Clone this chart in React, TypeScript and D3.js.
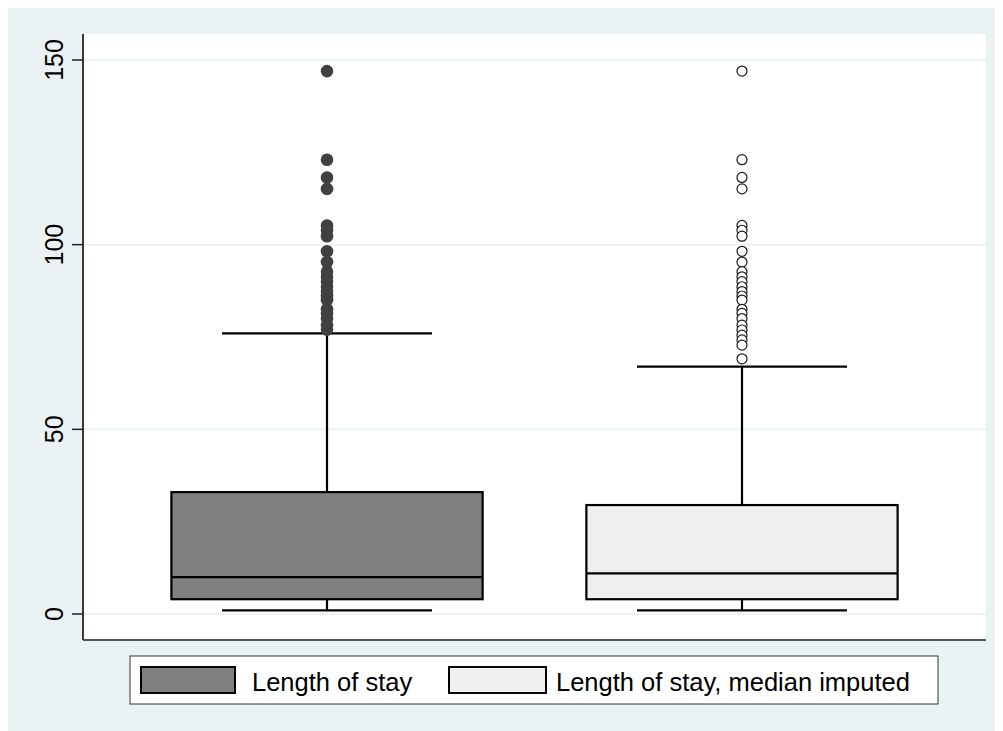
import React from "react";
import { scaleLinear, scalePoint } from "d3";

const groups = ["Length of stay", "Length of stay, median imputed"];
const lowerWhisker = [1, 1];
const q1 = [4, 4];
const medians = [10, 11];
const q3 = [33, 29.5];
const upperWhisker = [76, 67];
const outliersLos = [
  147, 123, 118.2, 115.1, 105.2, 103.9, 102.3, 98.2, 95.3, 92.7, 91.3, 90,
  88.6, 87.3, 86.1, 85, 82.5, 81.4, 80, 78.2, 77,
];
const outliersImputed = [
  147, 123, 118.2, 115.1, 105.2, 103.9, 102.3, 98.2, 95.3, 92.7, 91.3, 90,
  88.6, 87.3, 86.1, 85, 82.5, 81.4, 80, 78.2, 76.9, 75.5, 74.2, 72.8, 69.1,
];
const yTicks = [0, 50, 100, 150];

const W = 990;
const H = 723;
const BG = "#eaf2f3";
const FONT = "Arial, 'Liberation Sans', Helvetica, sans-serif";

export default function App() {
  const plot = { left: 75, right: 978, top: 26, bottom: 632 };

  const y = scaleLinear().domain([0, 150]).range([606, 52]);
  const x = scalePoint()
    .domain(groups)
    .range([plot.left, plot.right])
    .padding(0.588);

  const step = x.step();
  const boxW = step * 0.75;
  const capW = step * 0.506;

  const fills = ["#808080", "#efefef"];
  const outliers = [outliersLos, outliersImputed];

  return (
    <svg width={W} height={H} style={{ display: "block" }}>
      <rect x={0} y={0} width={W} height={H} fill={BG} />
      <rect
        x={plot.left}
        y={plot.top}
        width={plot.right - plot.left}
        height={plot.bottom - plot.top}
        fill="white"
      />
      {/* grid */}
      {yTicks.map((t) => (
        <line
          key={"g" + t}
          x1={plot.left}
          x2={plot.right}
          y1={y(t)}
          y2={y(t)}
          stroke={BG}
          strokeWidth={2}
        />
      ))}

      {groups.map((g, i) => {
        const cx = x(g) as number;
        return (
          <g key={g}>
            <line x1={cx} x2={cx} y1={y(upperWhisker[i])} y2={y(q3[i])} stroke="black" strokeWidth={2.2} />
            <line x1={cx} x2={cx} y1={y(q1[i])} y2={y(lowerWhisker[i])} stroke="black" strokeWidth={2.2} />
            <line
              x1={cx - capW / 2}
              x2={cx + capW / 2}
              y1={y(upperWhisker[i])}
              y2={y(upperWhisker[i])}
              stroke="black"
              strokeWidth={2.2}
            />
            <line
              x1={cx - capW / 2}
              x2={cx + capW / 2}
              y1={y(lowerWhisker[i])}
              y2={y(lowerWhisker[i])}
              stroke="black"
              strokeWidth={2.2}
            />
            <rect
              x={cx - boxW / 2}
              y={y(q3[i])}
              width={boxW}
              height={y(q1[i]) - y(q3[i])}
              fill={fills[i]}
              stroke="black"
              strokeWidth={2.2}
            />
            <line
              x1={cx - boxW / 2}
              x2={cx + boxW / 2}
              y1={y(medians[i])}
              y2={y(medians[i])}
              stroke="black"
              strokeWidth={2.2}
            />
            {outliers[i].map((v, j) =>
              i === 0 ? (
                <circle key={j} cx={cx} cy={y(v)} r={6.3} fill="#404040" />
              ) : (
                <circle
                  key={j}
                  cx={cx}
                  cy={y(v)}
                  r={5}
                  fill="white"
                  stroke="#1a1a1a"
                  strokeWidth={1.2}
                />
              )
            )}
          </g>
        );
      })}

      {/* axes */}
      <line x1={plot.left} x2={plot.left} y1={plot.top} y2={plot.bottom} stroke="#222" strokeWidth={1.8} />
      <line x1={plot.left} x2={plot.right} y1={plot.bottom} y2={plot.bottom} stroke="#555" strokeWidth={1.8} />
      {yTicks.map((t) => (
        <g key={"t" + t}>
          <line x1={plot.left - 11} x2={plot.left} y1={y(t)} y2={y(t)} stroke="#222" strokeWidth={1.5} />
          <text
            transform={`translate(${55},${y(t)}) rotate(-90)`}
            textAnchor="middle"
            fontFamily={FONT}
            fontSize={25}
            fill="black"
          >
            {t}
          </text>
        </g>
      ))}

      {/* legend */}
      <rect x={122} y={648} width={808} height={48} fill="white" stroke="#333" strokeWidth={1} />
      <rect x={133} y={659} width={94} height={26} fill={fills[0]} stroke="black" strokeWidth={2} />
      <text x={244} y={683} fontFamily={FONT} fontSize={25.5} fill="black">
        {groups[0]}
      </text>
      <rect x={441} y={659} width={97} height={26} fill={fills[1]} stroke="black" strokeWidth={2} />
      <text x={548} y={683} fontFamily={FONT} fontSize={25.5} fill="black">
        {groups[1]}
      </text>
    </svg>
  );
}
